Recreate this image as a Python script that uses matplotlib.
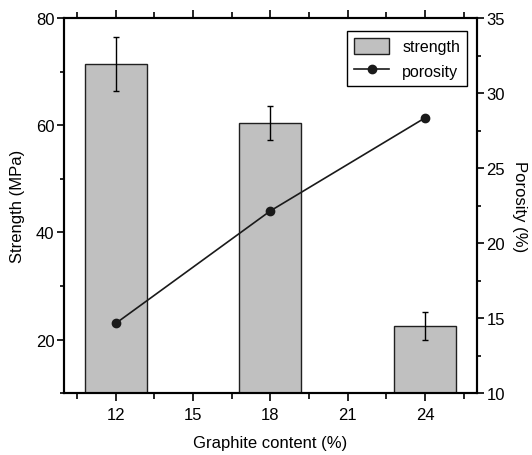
import matplotlib
matplotlib.use("Agg")
import matplotlib.pyplot as plt
from matplotlib.patches import Patch
from matplotlib.lines import Line2D
from matplotlib.ticker import MultipleLocator

plt.rcParams['font.family'] = ['Liberation Sans', 'DejaVu Sans']

graphite = [12, 18, 24]
strength = [71.4, 60.4, 22.6]
strength_err = [5.0, 3.2, 2.6]
porosity = [14.65, 22.15, 28.35]

fig = plt.figure(figsize=(5.32, 4.56), dpi=100)
ax = fig.add_axes([0.1203, 0.1353, 0.7757, 0.823])

ax.bar(graphite, strength, width=2.4, color='#c0c0c0', edgecolor='#202020',
       linewidth=1.0, zorder=2)
ax.errorbar(graphite, strength, yerr=strength_err, fmt='none', ecolor='black',
            elinewidth=1.0, capsize=2.2, capthick=1.0, zorder=3)

ax.set_xlim(10, 26)
ax.set_ylim(10, 80)
ax.set_xticks([12, 15, 18, 21, 24])
ax.xaxis.set_minor_locator(MultipleLocator(1.5))
ax.set_yticks([20, 40, 60, 80])
ax.yaxis.set_minor_locator(MultipleLocator(10))

ax.tick_params(axis='x', which='major', direction='out', length=6, width=1.2,
               labelsize=12, pad=4, top=True)
ax.tick_params(axis='x', which='minor', direction='out', length=4, width=1.2, top=True)
ax.tick_params(axis='y', which='major', direction='out', length=5, width=1.2,
               labelsize=12, pad=2)
ax.tick_params(axis='y', which='minor', direction='out', length=3, width=1.2)

for s in ax.spines.values():
    s.set_linewidth(1.5)

ax.set_xlabel('Graphite content (%)', fontsize=12, labelpad=9)
ax.set_ylabel('Strength (MPa)', fontsize=12, labelpad=8)

ax2 = ax.twinx()
ax2.plot(graphite, porosity, color='#1a1a1a', linewidth=1.2, marker='o',
         markersize=6, markerfacecolor='#1a1a1a', markeredgecolor='#1a1a1a', zorder=4)
ax2.set_ylim(10, 35)
ax2.set_yticks([10, 15, 20, 25, 30, 35])
ax2.yaxis.set_minor_locator(MultipleLocator(2.5))
ax2.tick_params(axis='y', which='major', direction='out', length=5, width=1.2,
                labelsize=12, pad=2)
ax2.tick_params(axis='y', which='minor', direction='out', length=3, width=1.2)
for s in ax2.spines.values():
    s.set_linewidth(1.5)
ax2.set_ylabel('Porosity (%)', fontsize=12, rotation=270, labelpad=16)

handles = [Patch(facecolor='#c0c0c0', edgecolor='#202020', linewidth=1.0),
           Line2D([0], [0], color='#1a1a1a', linewidth=1.2, marker='o', markersize=6)]
leg = ax2.legend(handles, ['strength', 'porosity'], loc='upper right',
                 bbox_to_anchor=(0.977, 0.965), fontsize=11.5, frameon=True,
                 fancybox=False, edgecolor='black', framealpha=1,
                 handlelength=2.2, handleheight=1.1, handletextpad=0.8,
                 borderpad=0.45, labelspacing=0.5, borderaxespad=0)
leg.get_frame().set_linewidth(1.0)

fig.savefig('out.png', dpi=100)
